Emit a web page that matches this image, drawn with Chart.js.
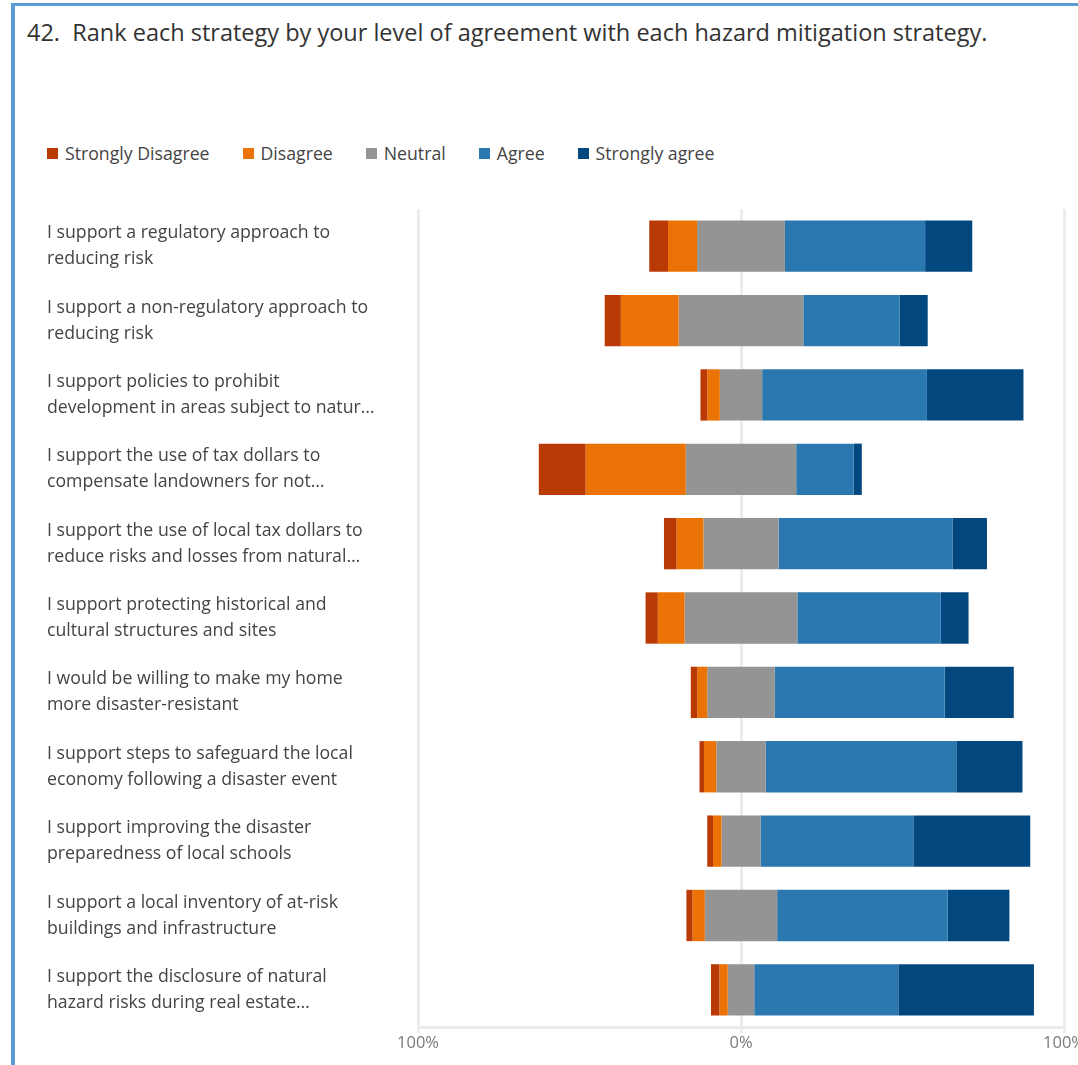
<!DOCTYPE html>
<html>
<head>
<meta charset="utf-8">
<title>Hazard mitigation strategies</title>
<script src="https://cdn.jsdelivr.net/npm/chart.js@4.4.1/dist/chart.umd.min.js"></script>
<style>
  html, body { margin: 0; padding: 0; width: 1078px; height: 1065px; overflow: hidden; background: #fff; font-family: 'Open Sans', sans-serif; }
  .frame { position: absolute; left: 11px; top: 3px; width: 1100px; height: 1100px; border-top: 3px solid #5b9bd5; border-left: 4px solid #5b9bd5; }
  .question { position: absolute; left: 27px; top: 16px; font-size: 23.5px; line-height: 32px; color: #333; white-space: pre; }
  #legend { position: absolute; left: 47px; top: 141px; display: flex; font-size: 17.7px; line-height: 24px; color: #444; }
  #legend .item { display: flex; align-items: center; margin-right: 33px; }
  #legend .swatch { width: 11px; height: 11px; margin-right: 7px; }
  #chartWrap { position: absolute; left: 0; top: 180px; }
</style>
</head>
<body>
<div class="frame"></div>
<div class="question">42.  Rank each strategy by your level of agreement with each hazard mitigation strategy.</div>
<div id="legend"></div>
<div id="chartWrap"><canvas id="likertChart" width="1090" height="885"></canvas></div>

<script>
// Survey statements (two lines each, as shown on the axis)
const categories = [
    ['I support a regulatory approach to', 'reducing risk'],
    ['I support a non-regulatory approach to', 'reducing risk'],
    ['I support policies to prohibit', 'development in areas subject to natur…'],
    ['I support the use of tax dollars to', 'compensate landowners for not…'],
    ['I support the use of local tax dollars to', 'reduce risks and losses from natural…'],
    ['I support protecting historical and', 'cultural structures and sites'],
    ['I would be willing to make my home', 'more disaster-resistant'],
    ['I support steps to safeguard the local', 'economy following a disaster event'],
    ['I support improving the disaster', 'preparedness of local schools'],
    ['I support a local inventory of at-risk', 'buildings and infrastructure'],
    ['I support the disclosure of natural', 'hazard risks during real estate…']
];

// Share of responses per statement, in percent
const stronglyDisagree = [5.8, 5.0, 2.1, 14.5, 3.9, 3.8, 2.0, 1.4, 1.8, 1.9, 2.6];
const disagree         = [9.0, 17.9, 3.9, 31.0, 8.3, 8.3, 3.1, 3.8, 2.6, 3.8, 2.6];
const neutral          = [27.2, 38.6, 13.1, 34.2, 23.3, 34.9, 20.9, 15.3, 12.1, 22.4, 8.2];
const agree            = [43.4, 29.8, 51.0, 17.8, 53.8, 44.4, 52.6, 59.0, 47.3, 52.8, 44.6];
const stronglyAgree    = [14.6, 8.7, 29.9, 2.5, 10.7, 8.6, 21.4, 20.5, 36.2, 19.1, 42.0];

const seriesNames = ['Strongly Disagree', 'Disagree', 'Neutral', 'Agree', 'Strongly agree'];
const seriesColors = ['#b93a04', '#eb7205', '#949494', '#2b78b0', '#03477f'];
const xTickValues = [-100, 0, 100];

document.addEventListener('DOMContentLoaded', function () {
    const series = [stronglyDisagree, disagree, neutral, agree, stronglyAgree];

    // Each bar is centred on the middle of the neutral segment
    const starts = categories.map((_, i) => -(stronglyDisagree[i] + disagree[i] + neutral[i] / 2));

    const datasets = series.map((values, s) => ({
        label: seriesNames[s],
        data: values.map((v, i) => {
            let from = starts[i];
            for (let k = 0; k < s; k++) from += series[k][i];
            return [from, from + v];
        }),
        backgroundColor: seriesColors[s],
        borderWidth: 0,
        grouped: false,
        barPercentage: 1,
        categoryPercentage: 0.69
    }));

    // Legend row
    const legend = document.getElementById('legend');
    seriesNames.forEach((name, s) => {
        const item = document.createElement('div');
        item.className = 'item';
        const swatch = document.createElement('span');
        swatch.className = 'swatch';
        swatch.style.background = seriesColors[s];
        const text = document.createElement('span');
        text.textContent = name;
        item.appendChild(swatch);
        item.appendChild(text);
        legend.appendChild(item);
    });

    const ctx = document.getElementById('likertChart').getContext('2d');
    new Chart(ctx, {
        type: 'bar',
        data: { labels: categories, datasets: datasets },
        options: {
            indexAxis: 'y',
            responsive: false,
            animation: false,
            devicePixelRatio: 1,
            layout: { padding: { left: 47, top: 28, right: 26, bottom: 11 } },
            plugins: {
                legend: { display: false },
                tooltip: { enabled: false }
            },
            scales: {
                x: {
                    min: -100,
                    max: 100,
                    afterBuildTicks: axis => { axis.ticks = xTickValues.map(v => ({ value: v })); },
                    grid: { color: '#ececec', lineWidth: 3, tickLength: 6 },
                    border: { display: true, color: '#ececec', width: 3 },
                    ticks: {
                        padding: 1,
                        color: '#7a7a7a',
                        font: { family: 'Open Sans', size: 16.5, lineHeight: 1.15 },
                        callback: value => Math.abs(value) + '%'
                    }
                },
                y: {
                    grid: { display: false },
                    border: { display: false },
                    afterFit: scale => { scale.width = 371; },
                    ticks: {
                        autoSkip: false,
                        crossAlign: 'far',
                        color: '#444',
                        font: { family: 'Open Sans', size: 17.7, lineHeight: 1.47 }
                    }
                }
            }
        }
    });
});
</script>
</body>
</html>
